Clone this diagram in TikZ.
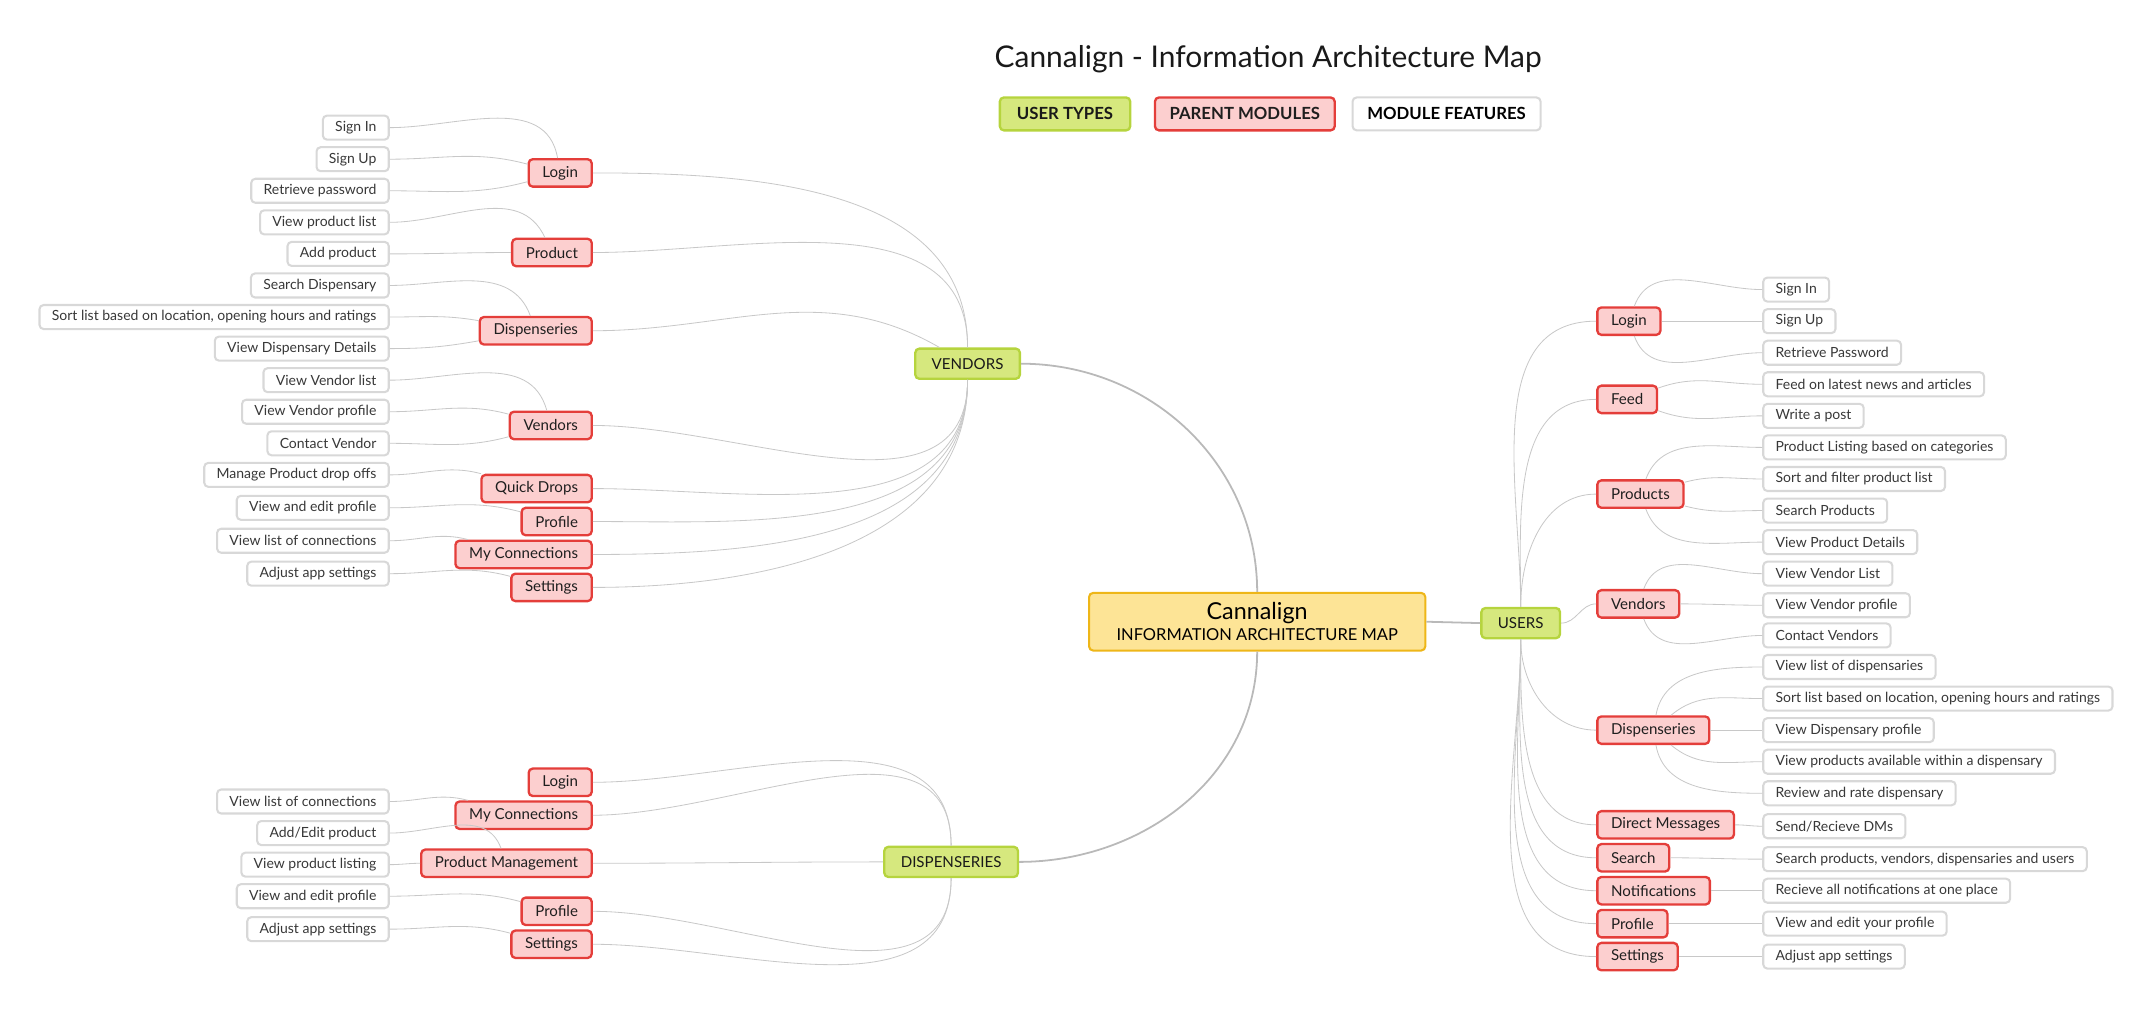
\documentclass[tikz,border=0pt]{standalone}
\usepackage{fontspec}
\setmainfont{Lato}
\definecolor{hubfill}{RGB}{214,232,126}
\definecolor{hubline}{RGB}{182,212,62}
\definecolor{modfill}{RGB}{252,207,207}
\definecolor{modline}{RGB}{228,62,58}
\definecolor{featline}{RGB}{216,216,216}
\definecolor{rootfill}{RGB}{253,228,150}
\definecolor{rootline}{RGB}{238,182,24}
\definecolor{linkgray}{RGB}{200,200,200}
\definecolor{maingray}{RGB}{185,185,185}
\tikzset{
  box/.style={rounded corners=3pt, line width=1.5pt, inner ysep=0pt},
  feat/.style={box, draw=featline, fill=white, minimum height=17.5pt, inner xsep=9pt,
    text=black!78, font=\fontsize{10.2}{12}\selectfont},
  module/.style={box, draw=modline, fill=modfill, minimum height=20pt, inner xsep=10pt, line width=1.7pt,
    text=black!88, font=\fontsize{11}{13}\selectfont},
  hub/.style={box, draw=hubline, fill=hubfill, minimum height=22pt, inner xsep=12pt, line width=1.7pt,
    text=black!90, font=\fontsize{11}{13}\selectfont},
  legend/.style={minimum height=24pt, minimum width=#1, font=\bfseries\fontsize{12.2}{14}\selectfont},
  link/.style={draw=linkgray, line width=0.6pt},
  mainlink/.style={draw=maingray, line width=1.3pt},
}
\begin{document}
\begin{tikzpicture}[x=1pt,y=-1pt]
\useasboundingbox (0,0) rectangle (1568,735);
% title and legend
\node[font=\fontsize{21.8}{25}\selectfont, text=black!90] (title) at (924,43) {Cannalign - Information Architecture Map};
\node[hub, legend=95pt] (keyuser) at (776,83) {USER TYPES};
\node[module, legend=131pt] (keymodule) at (907,83) {PARENT MODULES};
\node[feat, legend=137pt, text=black] (keyfeature) at (1054,83) {MODULE FEATURES};
% centre and user types
\node[box, draw=rootline, fill=rootfill, minimum width=245pt, minimum height=42pt, align=center] (root) at (916,453)
  {{\fontsize{17}{19}\selectfont Cannalign}\\[3pt]{\fontsize{12}{14}\selectfont INFORMATION ARCHITECTURE MAP}};
\node[hub] (users) at (1108,454) {USERS};
\node[hub] (vendors) at (705,265) {VENDORS};
\node[hub] (dispensaries) at (693,628) {DISPENSERIES};
\draw[mainlink] (root.north) to[out=90,in=0] (vendors.east);
\draw[mainlink] (root.south) to[out=270,in=0] (dispensaries.east);
\draw[mainlink] (root.east) -- (users.west);
% users
\foreach \nm/\lab/\ypos in {ulogin/Login/234, ufeed/Feed/291, uproducts/Products/360, uvendors/Vendors/440,
  udisp/Dispenseries/532, udm/Direct Messages/601, usearch/Search/625, unotif/Notifications/649,
  uprofile/Profile/673, usettings/Settings/697}
  \node[module, anchor=west] (\nm) at (1163,\ypos) {\lab};
\foreach \nm/\ang in {ulogin/90, ufeed/90, uproducts/90, uvendors/0, udisp/270, udm/270, usearch/270,
  unotif/270, uprofile/270, usettings/270}
  \draw[link] (users.\ang) to[out=\ang,in=180] (\nm.west);
\foreach \lab/\ypos/\src/\ang [count=\i] in {Sign In/211/ulogin/70, Sign Up/234/ulogin/0,
  Retrieve Password/257/ulogin/290, Feed on latest news and articles/280/ufeed/20, Write a post/303/ufeed/340,
  Product Listing based on categories/326/uproducts/70, Sort and filter product list/349/uproducts/15,
  Search Products/372/uproducts/345, View Product Details/395/uproducts/290,
  View Vendor List/418/uvendors/70, View Vendor profile/441/uvendors/0, Contact Vendors/463/uvendors/290,
  View list of dispensaries/486/udisp/80, {Sort list based on location, opening hours and ratings}/509/udisp/40,
  View Dispensary profile/532/udisp/0, View products available within a dispensary/555/udisp/320,
  Review and rate dispensary/578/udisp/280, {Send/Recieve DMs}/602/udm/0,
  {Search products, vendors, dispensaries and users}/626/usearch/0,
  Recieve all notifications at one place/649/unotif/0, View and edit your profile/673/uprofile/0,
  Adjust app settings/697/usettings/0}{
  \node[feat, anchor=west] (uf\i) at (1284,\ypos) {\lab};
  \draw[link] (\src.\ang) to[out=\ang,in=180] (uf\i.west);
}
% vendors
\foreach \nm/\lab/\ypos in {vlogin/Login/126, vproduct/Product/184, vdisp/Dispenseries/241, vvendors/Vendors/310,
  vquick/Quick Drops/356, vprofile/Profile/380, vconn/My Connections/404, vsettings/Settings/428}
  \node[module, anchor=east] (\nm) at (432,\ypos) {\lab};
\foreach \nm/\ang in {vlogin/90, vproduct/90, vdisp/150, vvendors/270, vquick/270, vprofile/270,
  vconn/270, vsettings/270}
  \draw[link] (vendors.\ang) to[out=\ang,in=0] (\nm.east);
\foreach \lab/\ypos/\src/\ang [count=\i] in {Sign In/93/vlogin/100, Sign Up/116/vlogin/165,
  Retrieve password/139/vlogin/195, View product list/162/vproduct/115, Add product/185/vproduct/180,
  Search Dispensary/208/vdisp/110, {Sort list based on location, opening hours and ratings}/231/vdisp/170,
  View Dispensary Details/254/vdisp/190, View Vendor list/277/vvendors/105, View Vendor profile/300/vvendors/165,
  Contact Vendor/323/vvendors/195, Manage Product drop offs/346/vquick/165,
  View and edit profile/370/vprofile/165, View list of connections/394/vconn/165,
  Adjust app settings/418/vsettings/165}{
  \node[feat, anchor=east] (vf\i) at (284,\ypos) {\lab};
  \draw[link] (\src.\ang) to[out=\ang,in=0] (vf\i.east);
}
% dispensaries
\foreach \nm/\lab/\ypos in {dlogin/Login/570, dconn/My Connections/594, dprod/Product Management/629,
  dprofile/Profile/664, dsettings/Settings/688}
  \node[module, anchor=east] (\nm) at (432,\ypos) {\lab};
\foreach \nm/\ang in {dlogin/90, dconn/90, dprod/180, dprofile/270, dsettings/270}
  \draw[link] (dispensaries.\ang) to[out=\ang,in=0] (\nm.east);
\foreach \lab/\ypos/\src/\ang [count=\i] in {View list of connections/584/dconn/165,
  {Add/Edit product}/607/dprod/110, View product listing/630/dprod/180,
  View and edit profile/653/dprofile/165, Adjust app settings/677/dsettings/165}{
  \node[feat, anchor=east] (df\i) at (284,\ypos) {\lab};
  \draw[link] (\src.\ang) to[out=\ang,in=0] (df\i.east);
}
\end{tikzpicture}
\end{document}
